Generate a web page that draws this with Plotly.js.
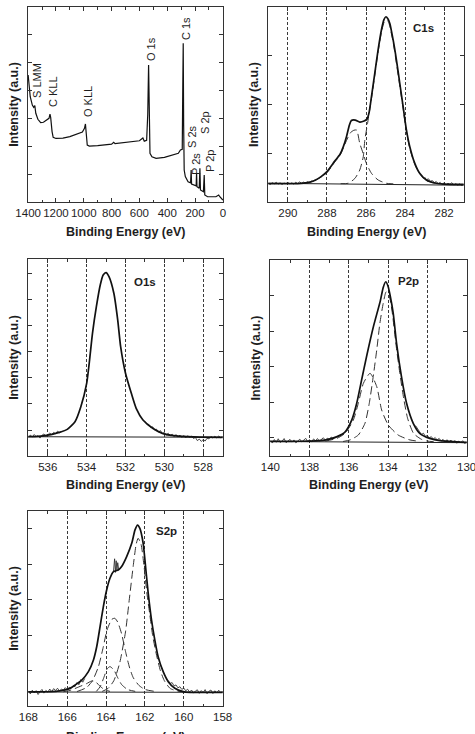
<!DOCTYPE html>
<html>
<head>
<meta charset="utf-8">
<script src="https://cdn.plot.ly/plotly-3.0.1.min.js"></script>
<style>
html,body{margin:0;padding:0;background:#fff;}
#chart{width:475px;height:734px;}
</style>
</head>
<body>
<div id="chart"></div>
<script>
// ---------------- DATA ----------------
// Survey spectrum
const surveyBE = [1400,1392,1385,1370,1360,1352,1345,1330,1310,1290,1265,1250,1243,1238,1228,1220,1200,1150,1100,1050,1010,995,988,982,975,960,900,800,785,775,700,600,575,565,548,540,534,530,524,510,480,420,360,320,305,292,288,285,282,278,270,250,232,228,225,200,192,189,186,170,165,161,140,134,130,110,50,30,22,0];
const surveyI  = [65.1,58,54.0,49.7,48.5,49.4,45.5,42.4,40.7,40.9,42.1,42.9,45.0,43.4,36.1,33.2,32.6,32.8,33.5,34.7,35.9,37.8,40.0,35.0,29.2,28.7,28.9,29.7,30.6,29.9,30.4,31.4,32.8,31.2,31.6,45,70.3,48,25.0,23.2,22.4,22.9,24.1,25.0,26.7,27,60,81.4,40,16.4,13.0,10.4,9.8,16.4,9.2,8.7,8.3,15.0,7.8,7.0,17.3,6.2,5.3,13.8,3.6,2.7,2.7,3.6,2.7,1.0];
const surveyLabels = ['S LMM','C KLL','O KLL','O 1s','C 1s','S 2s','S 2p','P 2s','P 2p'];
const surveyTicks = [1400,1200,1000,800,600,400,200,0];

// C1s
const c1sTicks = [290,288,286,284,282];
const c1sBE  = [291.0,290.0,289.5,289.0,288.6,288.3,288.0,287.6,287.33,287.16,287.0,286.85,286.75,286.55,286.32,286.1,285.95,285.85,285.72,285.55,285.38,285.21,285.08,284.98,284.88,284.78,284.61,284.44,284.27,284.10,283.93,283.76,283.50,283.25,282.91,282.4,282.0,281.0];
const c1sFit = [9.4,9.4,9.4,9.9,11.2,13.0,15.6,21.0,24.5,28.4,33.5,39.5,41.8,42.0,41.0,41.5,42.5,45.5,54.0,66.0,78.0,88.2,93.5,95.0,94.0,91.6,83.1,72.8,60.9,49.0,37.0,28.5,19.8,14.7,11.3,9.6,9.2,9.0];
const c1sRawBE = [291.0,290.9,290.8,290.7,290.6,290.5,290.4,290.3,290.2,290.1,290.0,289.9,289.8,289.7,289.6,289.5,289.4,289.3,289.2,289.1,289.0,288.9,288.8,288.7,288.6,
                  288.6,
                  283.0,282.9,282.8,282.7,282.6,282.5,282.4,282.3,282.2,282.1,282.0,281.9,281.8,281.7,281.6,281.5,281.4,281.3,281.2,281.1,281.0];
const c1sRaw   = [9.6,9.0,9.9,9.3,10.1,9.2,9.8,9.0,9.7,9.4,10.0,9.3,9.8,9.2,10.1,9.5,10.3,9.6,10.2,9.7,10.4,9.9,10.8,10.6,11.5,
                  null,
                  12.8,11.4,11.9,10.6,11.0,9.9,10.5,9.4,10.1,9.0,9.8,8.8,9.6,9.1,9.9,8.7,9.4,8.6,9.3,8.5,9.0];
const c1sCC_BE = [287.3,286.91,286.57,286.32,286.14,286.06,285.92,285.72,285.55,285.38,285.21,285.08,284.97,284.85,284.78,284.61,284.44,284.27,284.10,283.93,283.76,283.50,283.25,282.91,282.4];
const c1sCC    = [9.4,9.6,12.1,16.4,23.2,31.8,40.3,53,65,77,87,92,93.3,92.5,90,82,71,59.5,48,36,27.5,19.3,14.5,11,9.6];
const c1sCO_BE = [289.2,288.8,288.4,288.0,287.6,287.33,287.0,286.8,286.62,286.48,286.32,286.15,285.98,285.72,285.38,284.96,284.6];
const c1sCO    = [9.6,10.3,12.2,15.0,20.5,24.0,31.5,35.5,36.8,36.9,30.1,25.0,19.8,14.7,11.3,9.6,9.3];
const c1sBgBE = [291,281];
const c1sBg   = [9.6,8.6];

// O1s
const o1sTicks = [536,534,532,530,528];
const o1sBE  = [537,536.5,536,535.6,535.3,535.0,534.6,534.3,534.0,533.85,533.7,533.5,533.3,533.15,533.0,532.85,532.6,532.4,532.25,532.0,531.7,531.45,531.1,530.6,530.1,529.4,528.5,527];
const o1sFit = [9.8,10.0,10.6,11.5,12.3,13.5,17.4,25.0,36.9,48.7,62.3,75.8,86.8,91.9,93.1,91.0,82.6,69.0,55.5,42.0,31.8,24.2,18.3,14.1,11.5,10.2,9.7,9.5];
const o1sRawBE = [537.0,536.9,536.8,536.7,536.6,536.5,536.4,536.3,536.2,536.1,536.0,535.9,535.8,535.7,535.6,535.5,535.4,535.3,
                  535.3,
                  531.0,530.9,530.8,530.7,530.6,530.5,530.4,530.3,530.2,530.1,530.0,529.9,529.8,529.7,529.6,529.5,529.4,529.3,529.2,529.1,529.0,
                  528.9,528.8,528.7,528.6,528.5,528.4,528.3,528.2,528.1,528.0,527.9,527.8,527.7,527.6,527.5,527.4,527.3,527.2,527.1,527.0];
const o1sRaw   = [9.4,10.6,9.7,10.9,9.9,10.3,9.1,10.5,11.2,10.0,10.8,11.6,10.9,12.0,11.3,12.6,11.8,12.4,
                  null,
                  17.6,16.2,16.0,14.4,14.8,13.2,13.6,12.1,12.9,11.4,12.0,10.6,11.5,10.2,11.1,9.8,10.9,9.6,10.6,9.4,10.4,
                  9.2,10.3,9.5,10.1,8.9,9.4,7.8,8.6,7.4,8.3,7.6,9.0,8.7,9.9,9.1,10.0,9.2,10.1,9.3,9.8];
const o1sBgBE = [537,527];
const o1sBg   = [9.8,9.5];

// P2p
const p2pTicks = [140,138,136,134,132,130];
const p2pBE  = [140,139,138,137.5,137.0,136.6,136.2,135.85,135.6,135.35,135.1,134.75,134.4,134.25,134.12,134.0,133.9,133.74,133.57,133.32,133.06,132.72,132.39,131.88,131.37,130.5,130];
const p2pFit = [7.5,7.5,7.6,7.8,8.6,9.9,12.2,18.4,26.9,38.8,50.7,66.0,79.0,86.0,88.9,86.5,82.0,72.8,57.5,40.5,26.9,16.7,11.6,9.0,7.8,7.2,7.0];
const p2pRawBE = [140.0,139.9,139.8,139.7,139.6,139.5,139.4,139.3,139.2,139.1,139.0,138.9,138.8,138.7,138.6,138.5,138.4,138.3,138.2,138.1,138.0,137.9,137.8,137.7,137.6,137.5,137.4,137.3,137.2,137.1,137.0,136.9,136.8,
                  136.8,
                  132.6,132.5,132.4,132.3,132.2,132.1,132.0,131.9,131.8,131.7,131.6,131.5,131.4,131.3,131.2,131.1,131.0,130.9,130.8,130.7,130.6,130.5,130.4,130.3,130.2,130.1,130.0];
const p2pRaw   = [7.9,6.6,8.4,7.0,8.8,6.9,7.6,8.9,6.8,7.7,8.5,7.1,8.2,6.7,7.9,8.6,7.2,8.0,9.0,7.4,8.3,7.1,8.7,7.8,8.9,7.6,8.4,9.3,8.1,9.0,8.6,9.6,8.8,
                  null,
                  15.5,13.6,12.4,11.0,11.6,10.0,10.5,9.2,9.9,8.6,9.4,8.1,9.0,7.6,8.5,7.2,8.3,7.0,8.1,6.8,7.9,6.5,7.6,6.8,7.8,6.4,7.1];
const p2pA_BE = [136.3,135.94,135.52,135.18,134.96,134.76,134.58,134.42,134.25,134.1,133.95,133.8,133.6,133.4,133.2,133.0,132.7,132.3,132.0,131.5];
const p2pA    = [7.4,8.2,10.7,16.7,26.9,40.5,54.1,67.7,77.9,83.8,82.0,74.0,57.0,42.0,29.0,19.0,11.5,8.5,7.6,7.2];
const p2pB_BE = [137.2,136.61,136.19,135.77,135.52,135.26,134.92,134.58,134.33,133.99,133.49,132.89,132.4];
const p2pB    = [7.6,9.0,11.6,18.4,26.9,37.1,42.2,35.4,23.5,15.8,10.7,8.2,7.5];
const p2pBgBE = [140,130];
const p2pBg   = [7.4,6.8];

// S2p
const s2pTicks = [168,166,164,162,160,158];
const s2pBE  = [168,167,166.5,166,165.85,165.59,165.25,164.91,164.65,164.48,164.31,164.14,163.97,163.80,163.62,163.37,163.20,162.94,162.68,162.51,162.38,162.26,162.09,161.95,161.83,161.66,161.49,161.32,161.06,160.80,160.46,160.03,159.69,158];
const s2pFit = [7.2,7.3,7.6,8.5,9.1,10.8,13.3,17.6,23.6,30.5,40.7,51.0,59.5,65.5,68.9,69.7,71.5,76.6,83.4,90.3,92.8,91.1,83.4,69.7,57.8,44.1,33.8,25.3,17.6,12.5,9.1,7.4,7.0,7.0];
const s2pRawBE = [168.0,167.9,167.8,167.7,167.6,167.5,167.4,167.3,167.2,167.1,167.0,166.9,166.8,166.7,166.6,166.5,166.4,166.3,166.2,166.1,166.0,165.9,165.8,165.7,165.6,165.5,165.4,165.3,165.2,165.1,
                  165.1,
                  163.62,163.56,163.52,163.48,163.44,163.40,163.35,163.30,
                  163.30,
                  160.8,160.7,160.6,160.5,160.4,160.3,160.2,160.1,160.0,159.9,159.8,159.7,159.6,159.5,159.4,159.3,159.2,159.1,159.0,158.9,158.8,158.7,158.6,158.5,158.4,158.3,158.2,158.1,158.0];
const s2pRaw   = [7.6,6.2,8.1,6.7,7.9,5.9,7.4,8.5,6.6,8.0,7.1,8.7,7.3,8.9,8.0,9.1,7.7,8.6,8.2,9.4,8.4,9.6,9.2,10.4,9.9,12.0,10.9,13.6,12.2,14.1,
                  null,
                  69,75.5,68.5,74.5,69.5,73.5,70,70.5,
                  null,
                  13.1,11.6,12.0,10.3,10.8,9.3,9.9,8.5,9.2,7.8,8.6,7.1,8.2,6.6,7.7,8.3,6.5,7.9,6.9,8.4,6.3,7.6,8.2,6.4,7.8,6.7,8.1,6.9,7.4];
const s2pC1_BE = [164.2,163.9,163.6,163.3,163.0,162.8,162.6,162.45,162.35,162.2,162.05,161.9,161.75,161.6,161.4,161.2,161.0,160.7,160.3,160.0];
const s2pC1    = [7.5,9.0,13,22,38,55,72,83,86,83,72,58,47,36,26,18,13,9,7.6,7.3];
const s2pC2_BE = [165.5,165.0,164.7,164.4,164.15,163.95,163.7,163.55,163.4,163.2,163.0,162.8,162.6,162.3,162.0,161.5];
const s2pC2    = [7.4,9.5,13,20,30,39,44.5,45,43,37,28,20,14.5,10.5,8.5,7.5];
const s2pC3_BE = [164.5,164.3,164.1,163.95,163.8,163.6,163.4,163.2,162.9,162.5];
const s2pC3    = [7.5,10,15,19,20.2,18.5,14.5,11,8.5,7.5];
const s2pC4_BE = [166.2,165.8,165.4,165.0,164.75,164.55,164.35,164.1,163.8];
const s2pC4    = [7.3,8.2,9.8,11.5,12.8,12.5,10.5,8.5,7.5];
const s2pBgBE = [168,158];
const s2pBg   = [7.2,7.0];

const panelNames = ['C1s','O1s','P2p','S2p'];
const xTitle = 'Binding Energy (eV)';
const yTitle = 'Intensity (a.u.)';

// ---------------- STYLE / LAYOUT ----------------
const W = 475, H = 734;
const FONT = 'Liberation Sans, Arial, Helvetica, sans-serif';
const INK = '#1e1e1e';

const panels = [
  {px:[28,223],  py:[7,202],   xr:[1401,-1],       ticks:surveyTicks, minor:100, grid:false, ydt:100/7, yt0:0,   xt:232},
  {px:[268,464], py:[7,202],   xr:[291.02,280.98], ticks:c1sTicks,    minor:1,   grid:true,  ydt:25,    yt0:0,   xt:232},
  {px:[28,223],  py:[259,456], xr:[537.02,526.98], ticks:o1sTicks,    minor:1,   grid:true,  ydt:13.2,  yt0:0,   xt:485},
  {px:[270,467], py:[260,456], xr:[140.02,129.98], ticks:p2pTicks,    minor:1,   grid:true,  ydt:18.16, yt0:100, xt:485},
  {px:[28,223],  py:[511,706], xr:[168.02,157.98], ticks:s2pTicks,    minor:1,   grid:true,  ydt:18.2,  yt0:0,   xt:737}
];

const layout = {
  width: W, height: H,
  margin: {l:0, r:0, t:0, b:0},
  paper_bgcolor: '#fff', plot_bgcolor: '#fff',
  showlegend: false,
  font: {family: FONT, color: INK, size: 11},
  annotations: []
};

panels.forEach((p, i) => {
  const n = i === 0 ? '' : String(i + 1);
  layout['xaxis' + n] = {
    domain: [p.px[0] / W, p.px[1] / W],
    anchor: 'y' + n,
    range: p.xr,
    tickmode: 'array', tickvals: p.ticks, ticktext: p.ticks.map(String),
    ticks: 'inside', ticklen: 4, tickwidth: 1, tickcolor: '#333',
    minor: {dtick: p.minor, tick0: 0, ticks: 'inside', ticklen: 2.5, tickwidth: 1, tickcolor: '#333', showgrid: false},
    showline: true, linecolor: '#333', linewidth: 1, mirror: 'allticks',
    showgrid: p.grid, gridcolor: '#3a3a3a', gridwidth: 1, griddash: '3px,2px',
    zeroline: false,
    tickfont: {size: 11.5, family: FONT, color: INK},
    ticklabeloverflow: 'allow',
    automargin: false,
    fixedrange: true
  };
  layout['yaxis' + n] = {
    domain: [1 - p.py[1] / H, 1 - p.py[0] / H],
    anchor: 'x' + n,
    range: [0, 100],
    tick0: p.yt0, dtick: p.ydt,
    ticks: 'inside', ticklen: 4, tickwidth: 1, tickcolor: '#333',
    showticklabels: false,
    showline: true, linecolor: '#333', linewidth: 1, mirror: 'allticks',
    showgrid: false, zeroline: false,
    automargin: false,
    fixedrange: true,
    title: {text: '<b>' + yTitle + '</b>', font: {size: 12.5, family: FONT, color: INK}, standoff: 5.5}
  };
  // x-axis title as text below each panel
  layout.annotations.push({
    text: '<b>' + xTitle + '</b>', xref: 'paper', yref: 'paper',
    x: (p.px[0] + p.px[1]) / 2 / W, y: 1 - p.xt / H,
    xanchor: 'center', yanchor: 'middle', showarrow: false,
    font: {size: 12.5, family: FONT, color: INK}
  });
});

// survey peak labels (paper positions)
const surveyLabelPos = [[37,81],[53,92],[88,102],[151,49],[186,29],[192,137],[205,123],[196,164],[210,161]];
surveyLabels.forEach((t, k) => {
  layout.annotations.push({
    text: t, xref: 'paper', yref: 'paper',
    x: surveyLabelPos[k][0] / W, y: 1 - surveyLabelPos[k][1] / H,
    xanchor: 'center', yanchor: 'middle', textangle: -90, showarrow: false,
    font: {size: 11, family: FONT, color: INK}
  });
});
// panel names
const namePos = [[423,28],[145,282],[408,281],[166,531]];
panelNames.forEach((t, k) => {
  layout.annotations.push({
    text: '<b>' + t + '</b>', xref: 'paper', yref: 'paper',
    x: namePos[k][0] / W, y: 1 - namePos[k][1] / H,
    xanchor: 'center', yanchor: 'middle', showarrow: false,
    font: {size: 11.5, family: FONT, color: INK}
  });
});

// ---------------- TRACES ----------------
function line(x, y, ax, style) {
  return Object.assign({
    type: 'scatter', mode: 'lines', x: x, y: y,
    xaxis: 'x' + ax, yaxis: 'y' + ax, hoverinfo: 'skip', connectgaps: false
  }, style);
}
const fitStyle = {line: {color: '#111', width: 1.7, shape: 'spline', smoothing: 0.6}};
const rawStyle = {line: {color: '#222', width: 0.8}};
const compStyle = {line: {color: '#333', width: 1, dash: '8px,4px', shape: 'spline', smoothing: 0.6}};
const bgStyle = {line: {color: '#222', width: 1}};

const data = [
  line(surveyBE, surveyI, '', {line: {color: '#111', width: 1.2}}),

  line(c1sBgBE, c1sBg, '2', bgStyle),
  line(c1sCC_BE, c1sCC, '2', compStyle),
  line(c1sCO_BE, c1sCO, '2', compStyle),
  line(c1sRawBE, c1sRaw, '2', rawStyle),
  line(c1sBE, c1sFit, '2', fitStyle),

  line(o1sBgBE, o1sBg, '3', bgStyle),
  line(o1sRawBE, o1sRaw, '3', rawStyle),
  line(o1sBE, o1sFit, '3', fitStyle),

  line(p2pBgBE, p2pBg, '4', bgStyle),
  line(p2pA_BE, p2pA, '4', compStyle),
  line(p2pB_BE, p2pB, '4', compStyle),
  line(p2pRawBE, p2pRaw, '4', rawStyle),
  line(p2pBE, p2pFit, '4', fitStyle),

  line(s2pBgBE, s2pBg, '5', bgStyle),
  line(s2pC1_BE, s2pC1, '5', compStyle),
  line(s2pC2_BE, s2pC2, '5', compStyle),
  line(s2pC3_BE, s2pC3, '5', compStyle),
  line(s2pC4_BE, s2pC4, '5', compStyle),
  line(s2pRawBE, s2pRaw, '5', rawStyle),
  line(s2pBE, s2pFit, '5', fitStyle)
];

Plotly.newPlot('chart', data, layout, {staticPlot: true, displayModeBar: false});
</script>
</body>
</html>
